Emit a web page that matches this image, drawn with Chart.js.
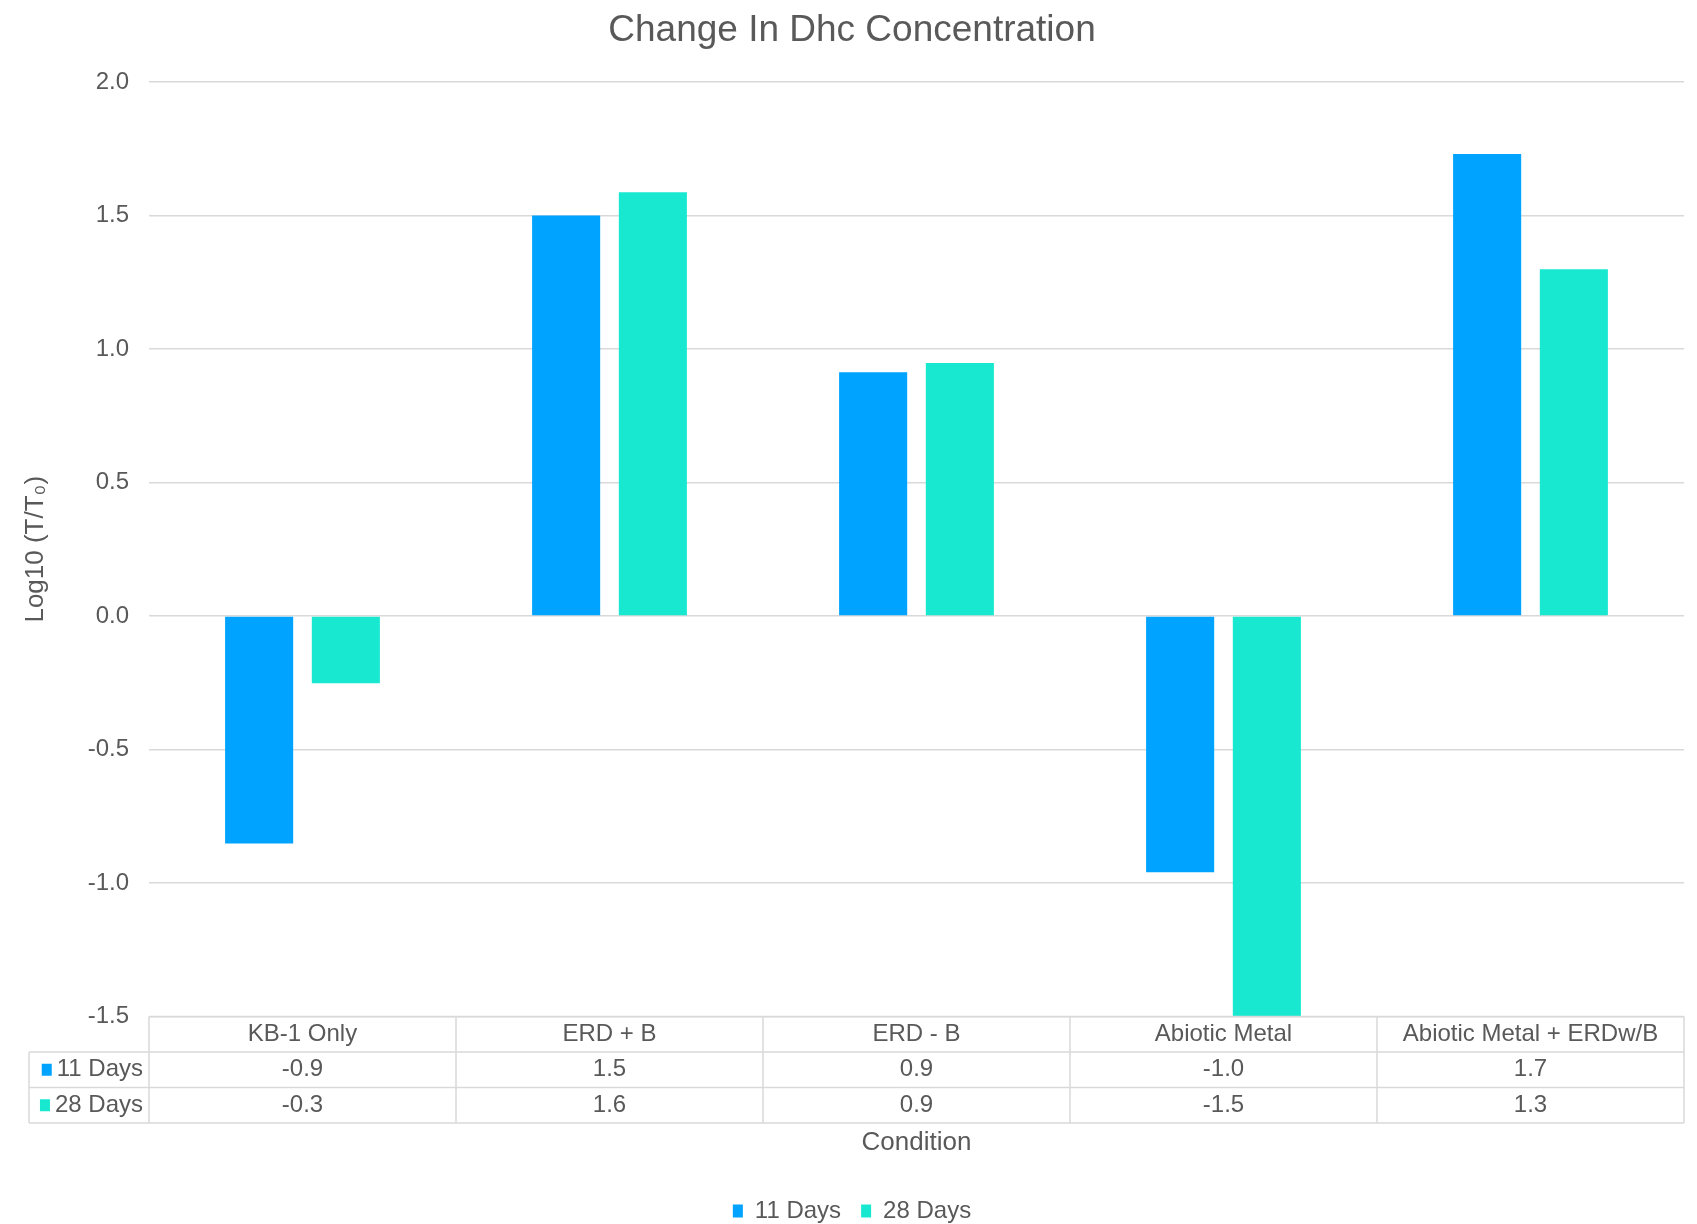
<!DOCTYPE html>
<html>
<head>
<meta charset="utf-8">
<title>Change In Dhc Concentration</title>
<script src="https://cdn.jsdelivr.net/npm/chart.js@4.4.0/dist/chart.umd.min.js"></script>
<style>
  html, body { margin: 0; padding: 0; background: #ffffff; overflow: hidden; }
  #wrap { width: 1697px; height: 1224px; }
</style>
</head>
<body>
<div id="wrap"><canvas id="chart" width="1697" height="1224"></canvas></div>
<script>
// Conditions tested and the log10 change of Dhc at each sampling time
const conditions = ['KB-1 Only', 'ERD + B', 'ERD - B', 'Abiotic Metal', 'Abiotic Metal + ERDw/B'];
const days11 = [-0.852, 1.50, 0.913, -0.96, 1.73];
const days28 = [-0.252, 1.587, 0.948, -1.50, 1.299];
const seriesNames = ['11 Days', '28 Days'];
const yTicks = [-1.5, -1.0, -0.5, 0.0, 0.5, 1.0, 1.5, 2.0];

const FONT = "'Liberation Sans', Arial, sans-serif";
const TEXT = '#595959';
const GRID = '#D9D9D9';
const COLORS = ['#00A3FF', '#19E8D0'];

Chart.defaults.font.family = FONT;
Chart.defaults.color = TEXT;

// Data table drawn under the plot, one column per category of the x scale
const dataTable = {
  id: 'dataTable',
  afterDraw(chart) {
    const { ctx, chartArea, scales: { x } } = chart;
    const n = conditions.length;
    const step = x.getPixelForValue(1) - x.getPixelForValue(0);
    const edges = [];
    for (let i = 0; i < n; i++) edges.push(x.getPixelForValue(i) - step / 2);
    edges.push(x.getPixelForValue(n - 1) + step / 2);

    const rowH = 35.5;
    const top = chartArea.bottom;
    const keyLeft = 29;
    const left = edges[0];
    const right = edges[n];
    const rows = [days11, days28];

    ctx.save();
    ctx.strokeStyle = GRID;
    ctx.lineWidth = 1.5;
    ctx.beginPath();
    // horizontal rules
    ctx.moveTo(left, top); ctx.lineTo(right, top);
    for (let r = 1; r <= 3; r++) {
      ctx.moveTo(keyLeft, top + r * rowH); ctx.lineTo(right, top + r * rowH);
    }
    // vertical rules
    ctx.moveTo(keyLeft, top + rowH); ctx.lineTo(keyLeft, top + 3 * rowH);
    edges.forEach(e => { ctx.moveTo(e, top); ctx.lineTo(e, top + 3 * rowH); });
    ctx.stroke();

    ctx.font = '24px ' + FONT;
    ctx.fillStyle = TEXT;
    ctx.textBaseline = 'middle';
    ctx.textAlign = 'center';
    conditions.forEach((c, i) => {
      ctx.fillText(c, x.getPixelForValue(i), top + rowH / 2);
    });
    rows.forEach((vals, r) => {
      const cy = top + (r + 1.5) * rowH;
      vals.forEach((v, i) => {
        ctx.fillText(v.toFixed(1), x.getPixelForValue(i), cy);
      });
      // series key: colour swatch + name, right aligned in the key column
      ctx.textAlign = 'right';
      const tx = left - 6;
      ctx.fillText(seriesNames[r], tx, cy);
      const tw = ctx.measureText(seriesNames[r]).width;
      ctx.fillStyle = COLORS[r];
      ctx.fillRect(tx - tw - 15, cy - 6, 10, 12);
      ctx.fillStyle = TEXT;
      ctx.textAlign = 'center';
    });
    ctx.restore();
  }
};

new Chart(document.getElementById('chart'), {
  type: 'bar',
  data: {
    labels: conditions,
    datasets: [
      { label: seriesNames[0], data: days11, backgroundColor: COLORS[0], borderWidth: 0 },
      { label: seriesNames[1], data: days28, backgroundColor: COLORS[1], borderWidth: 0 }
    ]
  },
  options: {
    responsive: false,
    animation: false,
    devicePixelRatio: 1,
    categoryPercentage: 0.565,
    barPercentage: 0.785,
    layout: { padding: { left: 20, right: 13, top: 0, bottom: -9 } },
    plugins: {
      title: {
        display: true,
        text: 'Change In Dhc Concentration',
        color: TEXT,
        font: { family: FONT, size: 37, weight: 'normal' },
        padding: { top: 9, bottom: 28.6 }
      },
      legend: {
        position: 'bottom',
        labels: {
          color: TEXT,
          font: { family: FONT, size: 24 },
          boxWidth: 10,
          boxHeight: 13,
          padding: 20
        }
      },
      tooltip: { enabled: false }
    },
    scales: {
      x: {
        grid: { display: false, drawTicks: false },
        border: { display: false },
        ticks: { display: false },
        title: {
          display: true,
          text: 'Condition',
          color: TEXT,
          font: { family: FONT, size: 26 },
          padding: { top: 110.9, bottom: 20.4 }
        }
      },
      y: {
        min: -1.5,
        max: 2.0,
        afterBuildTicks: s => { s.ticks = yTicks.map(v => ({ value: v })); },
        afterFit: s => { s.width = 129; },
        grid: { color: GRID, lineWidth: 1.5, drawTicks: false },
        border: { display: false },
        ticks: {
          padding: 20,
          color: TEXT,
          font: { family: FONT, size: 24 },
          callback: v => Number(v).toFixed(1)
        },
        title: {
          display: true,
          text: 'Log10 (T/T\u2080)',
          color: TEXT,
          font: { family: FONT, size: 26 },
          padding: { top: 0, bottom: 0 }
        }
      }
    }
  },
  plugins: [dataTable]
});
</script>
</body>
</html>
